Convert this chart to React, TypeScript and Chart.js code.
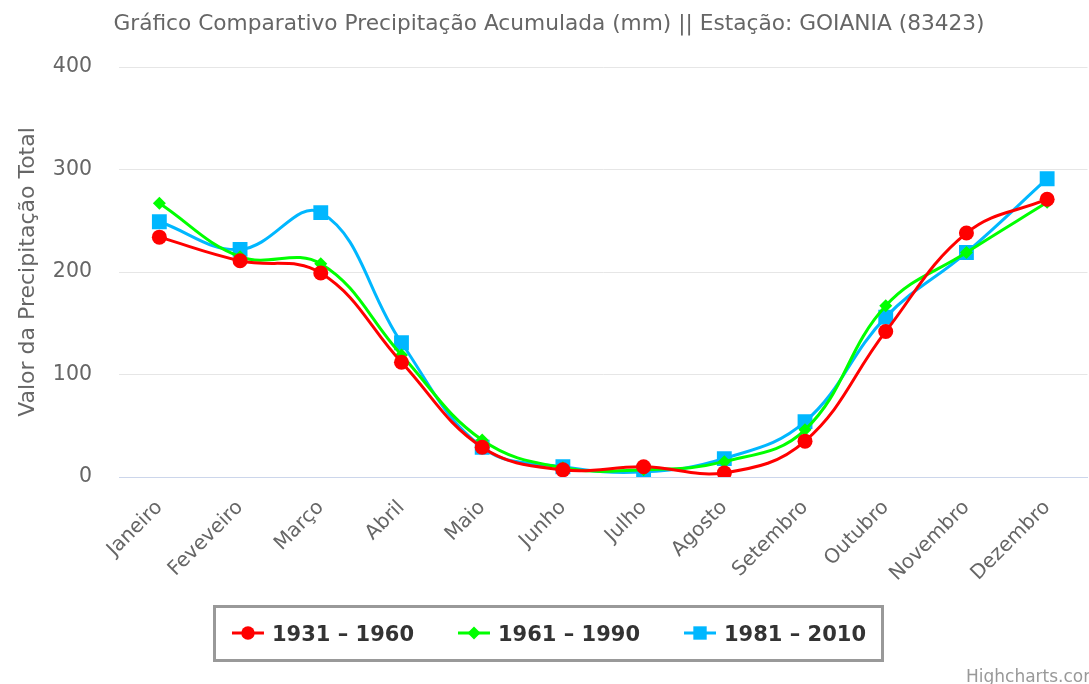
import React, { useEffect, useRef } from 'react';
import { Chart, registerables } from 'chart.js';

Chart.register(...registerables);

const TITLE = 'Gráfico Comparativo Precipitação Acumulada (mm) || Estação: GOIANIA (83423)';
const Y_TITLE = 'Valor da Precipitação Total';
const CREDITS = 'Highcharts.com';

const categories = ['Janeiro', 'Feveveiro', 'Março', 'Abril', 'Maio', 'Junho', 'Julho', 'Agosto', 'Setembro', 'Outubro', 'Novembro', 'Dezembro'];
const series1931 = [234, 211, 199, 112, 29, 7, 10, 4, 35, 142, 238, 271];
const series1961 = [267, 215, 208, 119, 36, 9, 7, 15, 46, 167, 219, 268];
const series1981 = [249, 222, 258, 131, 29, 10, 5, 18, 54, 156, 219, 291];
const seriesNames = ['1931 – 1960', '1961 – 1990', '1981 – 2010'];
const yTicks = [0, 100, 200, 300, 400];

const RED = '#ff0000';
const GREEN = '#00ff00';
const BLUE = '#00b7ff';

const overlay = {
  id: 'overlay',
  afterDraw(chart: any) {
    const ctx = chart.ctx as CanvasRenderingContext2D;
    const area = chart.chartArea;
    ctx.save();
    // title
    ctx.font = '21.7px "DejaVu Sans"';
    ctx.fillStyle = '#666666';
    ctx.textAlign = 'center';
    ctx.textBaseline = 'alphabetic';
    ctx.fillText(TITLE, chart.width / 2, 30);

    // y title
    ctx.save();
    ctx.translate(34, (area.top + area.bottom) / 2);
    ctx.rotate(-Math.PI / 2);
    ctx.font = '22px "DejaVu Sans"';
    ctx.fillStyle = '#666666';
    ctx.textAlign = 'center';
    ctx.fillText(Y_TITLE, 0, 0);
    ctx.restore();

    // legend
    const boxL = 213, boxT = 605, boxR = 884, boxB = 662;
    ctx.lineWidth = 3;
    ctx.strokeStyle = '#999999';
    ctx.strokeRect(boxL + 1.5, boxT + 1.5, boxR - boxL - 3, boxB - boxT - 3);
    ctx.font = 'bold 21px "DejaVu Sans"';
    const symW = 32, symGap = 8, itemGap = 44;
    const widths = chart.data.datasets.map((d: any) => ctx.measureText(d.label).width);
    const total = widths.reduce((a: number, w: number) => a + symW + symGap + w, 0) + itemGap * (widths.length - 1);
    let x = chart.width / 2 - total / 2;
    const cy = 633;
    chart.data.datasets.forEach((d: any, i: number) => {
      ctx.strokeStyle = d.borderColor;
      ctx.lineWidth = 3;
      ctx.beginPath();
      ctx.moveTo(x, cy);
      ctx.lineTo(x + symW, cy);
      ctx.stroke();
      ctx.fillStyle = d.borderColor;
      const r = d.pointRadius;
      const cx = x + symW / 2;
      ctx.beginPath();
      if (d.pointStyle === 'circle') {
        ctx.arc(cx, cy, r * 0.9, 0, Math.PI * 2);
      } else if (d.pointStyle === 'rectRot') {
        ctx.moveTo(cx, cy - r);
        ctx.lineTo(cx + r, cy);
        ctx.lineTo(cx, cy + r);
        ctx.lineTo(cx - r, cy);
        ctx.closePath();
      } else {
        const s = r * Math.SQRT1_2 * 0.9;
        ctx.rect(cx - s, cy - s, 2 * s, 2 * s);
      }
      ctx.fill();
      ctx.fillStyle = '#333333';
      ctx.textAlign = 'left';
      ctx.textBaseline = 'alphabetic';
      ctx.fillText(d.label, x + symW + symGap, cy + 8);
      x += symW + symGap + widths[i] + itemGap;
    });

    // credits
    ctx.font = '17px "DejaVu Sans"';
    ctx.fillStyle = '#999999';
    ctx.textAlign = 'left';
    ctx.fillText(CREDITS, 966, 682);
    ctx.restore();
  },
};

export default function App() {
  const ref = useRef<HTMLCanvasElement>(null);
  useEffect(() => {
    if (!ref.current) return;
    const mk = (label: string, data: number[], color: string, style: string, radius: number) => ({
      label,
      data,
      borderColor: color,
      backgroundColor: color,
      borderWidth: 3,
      pointStyle: style,
      pointRadius: radius,
      pointBorderWidth: 0,
      pointBackgroundColor: color,
      tension: 0.4,
      fill: false,
    });
    const chart = new Chart(ref.current, {
      type: 'line',
      data: {
        labels: categories,
        datasets: [
          mk(seriesNames[0], series1931, RED, 'circle', 7.5),
          mk(seriesNames[1], series1961, GREEN, 'rectRot', 6.5),
          mk(seriesNames[2], series1981, BLUE, 'rect', 10.5),
        ] as any,
      },
      options: {
        responsive: false,
        animation: false,
        devicePixelRatio: 1,
        layout: { padding: { top: 67, left: 0, right: 0, bottom: 0 } },
        plugins: {
          legend: { display: false },
          title: { display: false },
          tooltip: { enabled: false },
        },
        scales: {
          x: {
            offset: true,
            grid: { display: false, drawTicks: false },
            border: { display: true, color: '#ccd6eb', width: 1 },
            ticks: {
              color: '#666666',
              font: { family: '"DejaVu Sans"', size: 20 },
              minRotation: 45,
              maxRotation: 45,
              padding: 19,
              autoSkip: false,
            },
            afterFit: (s: any) => { s.height = 684 - 477; },
          },
          y: {
            min: 0,
            max: 400,
            afterBuildTicks: (s: any) => { s.ticks = yTicks.map((v) => ({ value: v })); },
            grid: { color: '#e6e6e6', lineWidth: 1, drawTicks: false },
            border: { display: false },
            ticks: {
              color: '#666666',
              font: { family: '"DejaVu Sans"', size: 20.5 },
              padding: 27,
            },
            afterFit: (s: any) => { s.width = 119; },
          },
        },
      },
      plugins: [overlay],
    });
    return () => chart.destroy();
  }, []);
  return (
    <div style={{ position: 'absolute', left: 0, top: 0, width: 1089, height: 684, overflow: 'hidden', background: '#fff' }}>
      <canvas ref={ref} width={1098} height={684} style={{ display: 'block' }} />
    </div>
  );
}
